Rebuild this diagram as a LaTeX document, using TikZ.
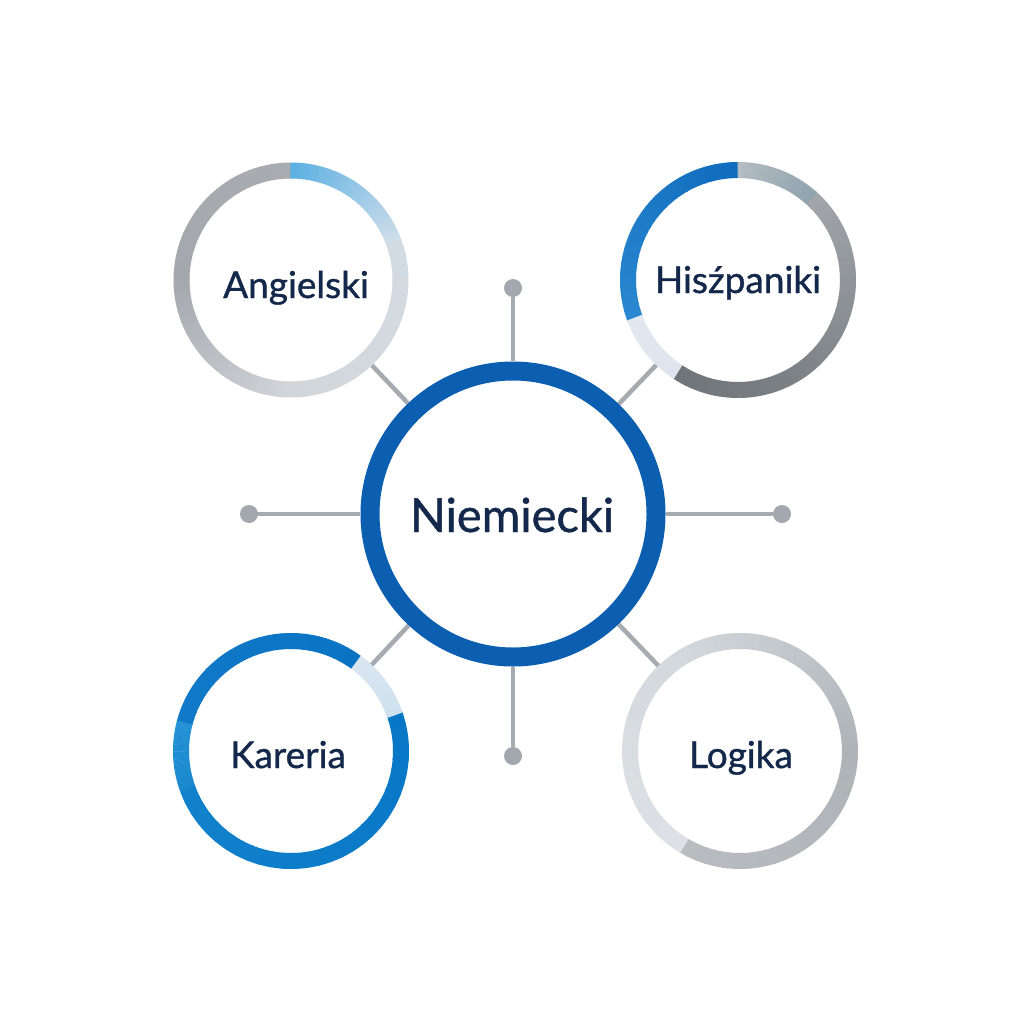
\documentclass[tikz,border=0pt]{standalone}
\usepackage{fontspec}
\setmainfont{Lato}
\newfontfamily\lblfont{Lato}[FakeBold=1.0]
\definecolor{txt}{HTML}{14284B}
\definecolor{conncol}{HTML}{A5ABB1}
\definecolor{dotcol}{HTML}{A2A8AE}
\definecolor{cenblue}{HTML}{0B5EB0}
\newcommand{\garc}[8]{% cx, cy, r, width, a1, a2, colA, colB (math angles)
  \definecolor{gcA}{HTML}{#7}%
  \definecolor{gcB}{HTML}{#8}%
  \foreach \k in {0,...,29}{%
    \pgfmathsetmacro{\ta}{-(#5+(#6-#5)*\k/30)}%
    \pgfmathsetmacro{\tb}{-(#5+(#6-#5)*(\k+1.15)/30)}%
    \pgfmathtruncatemacro{\pc}{100-100*(\k+0.5)/30}%
    \draw[line width=#4, line cap=butt, color=gcA!\pc!gcB]
      ([shift={(\ta:#3)}]#1,#2) arc[start angle=\ta, end angle=\tb, radius=#3];
  }}
\begin{document}
\begin{tikzpicture}[x=1pt,y=-1pt,
  hub/.style={circle, minimum size=305pt, inner sep=0pt},
  sat/.style={circle, minimum size=235pt, inner sep=0pt},
  conn/.style={draw=conncol, line width=4.5pt},
  dotnode/.style={circle, fill=dotcol, minimum size=18pt, inner sep=0pt},
  lbl/.style={anchor=base, text=txt, font=\lblfont\fontsize{37}{40}\selectfont},
  biglbl/.style={anchor=base, text=txt, font=\lblfont\fontsize{47}{50}\selectfont}]
\useasboundingbox (0,0) rectangle (1024,1024);
\fill[white] (0,0) rectangle (1024,1024);

% geometry nodes
\node[hub] (cen) at (513,514) {};
\node[sat] (ang) at (291,280) {};
\node[sat] (his) at (738,280) {};
\node[sat] (kar) at (291,751) {};
\node[sat] (log) at (740,751) {};

\node[dotnode] (dt) at (513,288) {};
\node[dotnode] (dl) at (249,514) {};
\node[dotnode] (dr) at (782,514) {};
\node[dotnode] (db) at (513,756) {};

% connectors
\draw[conn] (dt) -- (cen);
\draw[conn] (dl) -- (cen);
\draw[conn] (dr) -- (cen);
\draw[conn] (db) -- (cen);
\draw[conn] (ang) -- (cen);
\draw[conn] (his) -- (cen);
\draw[conn] (kar) -- (cen);
\draw[conn] (log) -- (cen);

% central ring
\draw[cenblue, line width=19pt] (cen.center) circle[radius=143];

% Angielski ring
\garc{291}{280}{109.5}{16pt}{90}{180}{A9ACB0}{A4A8AC}
\garc{291}{280}{109.5}{16pt}{180}{270}{A4A8AC}{D2D6DA}
\garc{291}{280}{109.5}{16pt}{270}{380}{D2D6DA}{D3DCE3}
\garc{291}{280}{109.5}{16pt}{380}{450}{CFDEEA}{5BB0E2}

% Hiszpaniki ring
\garc{738}{280}{110}{16pt}{90}{200}{0F6CBE}{2A88D0}
\garc{738}{280}{110}{16pt}{200}{237}{E2E8EF}{DDE4EC}
\garc{738}{280}{110}{16pt}{237}{300}{6F7478}{7C8185}
\garc{738}{280}{110}{16pt}{300}{408}{7C8185}{A2A6AA}
\garc{738}{280}{110}{16pt}{408}{450}{8FA3AE}{B3BCC2}

% Kareria ring
\garc{291}{751}{110}{16pt}{53.6}{165}{0A74C4}{1079C8}
\garc{291}{751}{110}{16pt}{165}{200}{2492D4}{1A88CE}
\garc{291}{751}{110}{16pt}{200}{379}{1282CC}{0676C6}
\garc{291}{751}{110}{16pt}{19}{53.6}{CFE1EF}{D9E6F0}

% Logika ring
\garc{740}{751}{110}{16pt}{-121}{0}{B9BDC1}{AEB3B7}
\garc{740}{751}{110}{16pt}{0}{120}{AEB3B7}{D3D8DC}
\garc{740}{751}{110}{16pt}{120}{239}{D3D8DC}{DEE2E6}

% labels
\node[biglbl] (tcen) at (512,532) {Niemiecki};
\node[lbl] (tang) at (296,298) {Angielski};
\node[lbl] (this) at (738,293) {Hisźpaniki};
\node[lbl] (tkar) at (288,768) {Kareria};
\node[lbl] (tlog) at (741,768) {Logika};
\end{tikzpicture}
\end{document}
